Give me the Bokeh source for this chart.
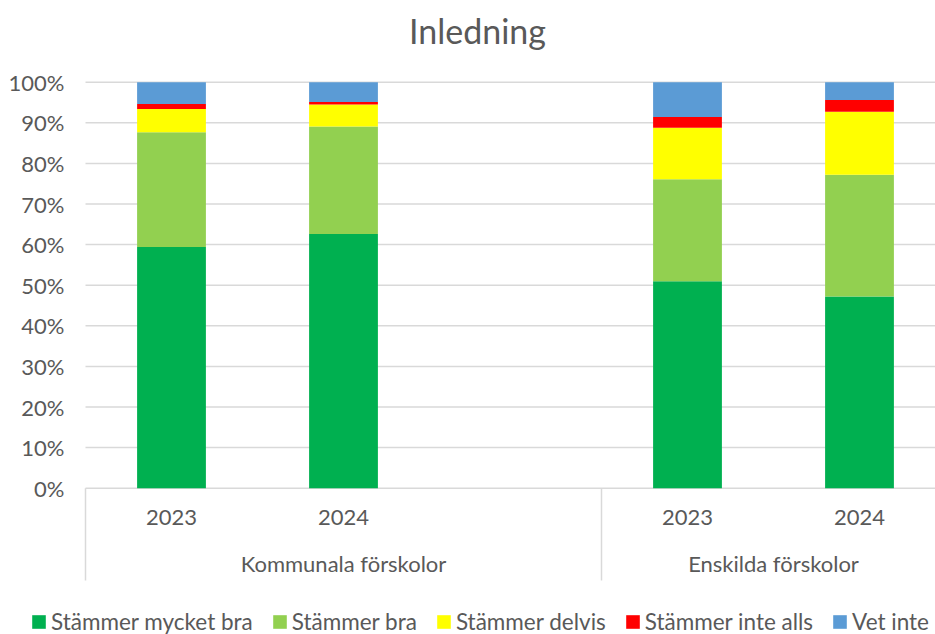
from bokeh.plotting import figure
from bokeh.models import ColumnDataSource, Legend, LegendItem, Label
from bokeh.core.properties import value
from bokeh.embed import file_html
from bokeh.resources import INLINE

# ---------------- data ----------------
title_text = "Inledning"
groups = ["Kommunala förskolor", "Enskilda förskolor"]
group_slots = [3, 2]          # category slots per group (Kommunala has an empty third slot)
years = ["2023", "2024"]
series = ["Stämmer mycket bra", "Stämmer bra", "Stämmer delvis", "Stämmer inte alls", "Vet inte"]
colors = ["#00B050", "#92D050", "#FFFF00", "#FF0000", "#5B9BD5"]

mycket_bra = [59.4, 62.6, 51.0, 47.2]
bra = [28.3, 26.5, 25.1, 30.0]
delvis = [5.7, 5.4, 12.7, 15.5]
inte_alls = [1.2, 0.6, 2.6, 2.9]
vet_inte = [5.4, 4.9, 8.6, 4.4]

y_ticks = [0, 10, 20, 30, 40, 50, 60, 70, 80, 90, 100]
y_tick_labels = ["0%", "10%", "20%", "30%", "40%", "50%", "60%", "70%", "80%", "90%", "100%"]

# ---------------- layout constants ----------------
FONT = "Lato"
TXT = "#595959"
GRID = "#D9D9D9"
FIG_W, FIG_H = 935, 634
PLOT_LEFT = 85                 # px where the plot area (x = 0) starts
UNIT_PX = 172.0                # px per category slot
Y0_PX, Y100_PX = 487.7, 81.7   # pixel rows of 0% and 100%
PX_PER_1 = Y0_PX - Y100_PX

def ydata(py):
    return (Y0_PX - py) / PX_PER_1 * 100.0

def xdata(px):
    return (px - PLOT_LEFT) / UNIT_PX

# ---------------- derived positions ----------------
xs, xlabels, gstarts, gcenters = [], [], [], []
start = 0
for g, n in zip(groups, group_slots):
    gstarts.append(start)
    gcenters.append(start + n / 2.0)
    for i, yr in enumerate(years):
        xs.append(start + i + 0.5)
        xlabels.append(yr)
    start += n
gends = gstarts[1:] + [start]
bounds = sorted(set(gstarts + gends))

keys = ["s0", "s1", "s2", "s3", "s4"]
vals = [mycket_bra, bra, delvis, inte_alls, vet_inte]
data = {"x": xs}
for k, v in zip(keys, vals):
    data[k] = list(v)
source = ColumnDataSource(data)

p = figure(width=FIG_W, height=FIG_H, output_backend="svg", toolbar_location=None,
           x_range=(xdata(0), xdata(FIG_W)), y_range=(ydata(FIG_H), ydata(0)),
           x_axis_location=None, y_axis_location=None, min_border=0,
           min_border_left=0, min_border_right=0, min_border_top=0, min_border_bottom=0,
           outline_line_color=None, background_fill_color="white", border_fill_color="white")
p.grid.visible = False

# horizontal gridlines (plot area only)
x_end = xdata(FIG_W)
p.segment(x0=[0] * len(y_ticks), y0=y_ticks, x1=[x_end] * len(y_ticks), y1=y_ticks,
          line_color=GRID, line_width=1.5)

# y tick labels
p.text(x=[xdata(64)] * len(y_ticks), y=y_ticks, text=y_tick_labels, text_align="right",
       text_baseline="middle", text_font=value(FONT), text_font_size="22px", text_color=TXT)

# group dividers
p.segment(x0=bounds, y0=[0] * len(bounds), x1=bounds, y1=[ydata(580)] * len(bounds),
          line_color=GRID, line_width=1.5)

# bars
rs = p.vbar_stack(keys, x="x", width=0.4, source=source, fill_color=colors, line_color=None)

# category labels
p.text(x=xs, y=[ydata(517)] * len(xs), text=xlabels, text_align="center", text_baseline="middle",
       text_font=value(FONT), text_font_size="22px", text_color=TXT)
p.text(x=gcenters, y=[ydata(563)] * len(gcenters), text=groups, text_align="center",
       text_baseline="middle", text_font=value(FONT), text_font_size="22px", text_color=TXT)

# title
p.add_layout(Label(x=xdata(477), y=ydata(30), text=title_text, text_align="center",
                   text_baseline="middle", text_font=FONT, text_font_size="34px", text_color=TXT))

# legend
items = [LegendItem(label=s, renderers=[r]) for s, r in zip(series, rs)]
legend = Legend(items=items, orientation="horizontal", location=(30, -1),
                glyph_width=17, glyph_height=17, label_standoff=4, spacing=18,
                padding=0, margin=0, border_line_color=None, background_fill_alpha=0,
                label_text_font=FONT, label_text_font_size="22.5px", label_text_color=TXT,
                label_height=17)
p.add_layout(legend, "center")

open("out.html", "w").write(file_html(p, INLINE))
